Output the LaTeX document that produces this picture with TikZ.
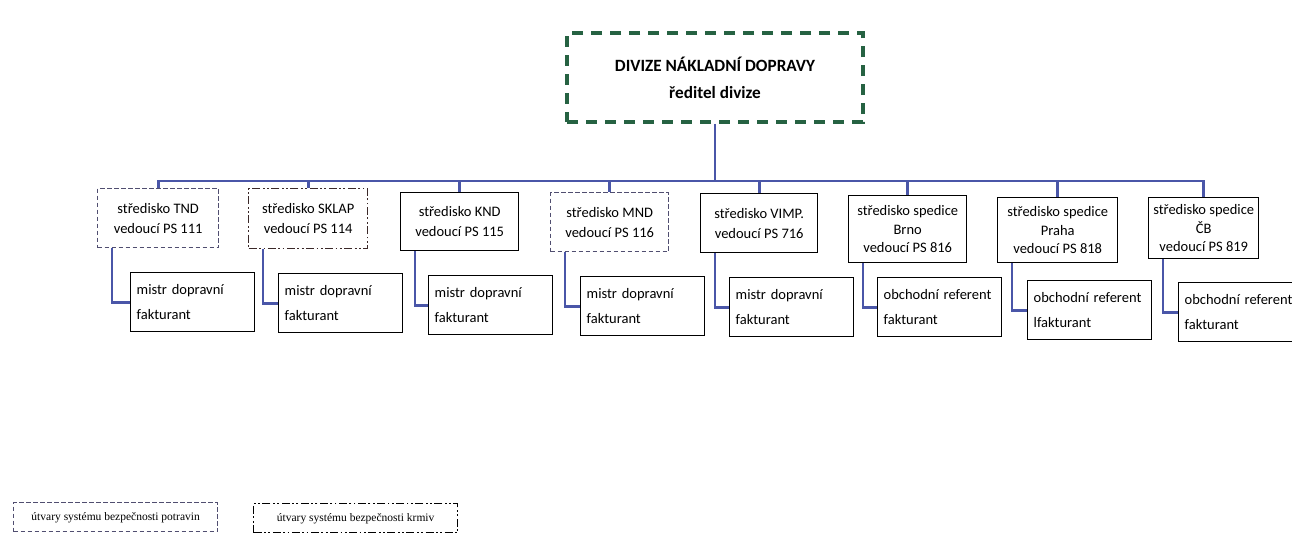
\documentclass[tikz,border=0pt]{standalone}
\usepackage{fontspec}
\setmainfont{Carlito}
\newfontfamily\legfont{Liberation Serif}
\definecolor{topgreen}{RGB}{38,98,66}
\definecolor{linkblue}{RGB}{74,86,168}
\definecolor{dashpurple}{RGB}{80,78,112}
\definecolor{dashbrown}{RGB}{58,40,40}
\tikzset{
  lvlbox/.style={draw=black, line width=1.4pt, anchor=north west, align=center, inner sep=0pt,
     font=\fontsize{14.5}{20}\selectfont},
  tallbox/.style={lvlbox, font=\fontsize{14.5}{18.5}\selectfont},
  foodbox/.style={draw=dashpurple, dash pattern=on 4.5pt off 2.5pt},
  feedbox/.style={draw=dashbrown, dash pattern=on 8pt off 2.5pt on 1.8pt off 2.5pt on 1.8pt off 2.5pt},
  childbox/.style={draw=black, line width=1.4pt, anchor=north west, minimum width=124pt,
     minimum height=59pt, text width=112pt, inner xsep=6pt, align=left,
     font=\fontsize{14.5}{25}\selectfont},
  link/.style={draw=linkblue, line width=2.8pt},
  legbox/.style={line width=1.3pt, anchor=north west, minimum width=204pt, minimum height=29pt,
     inner sep=0pt, font=\legfont\fontsize{11.5}{14}\selectfont},
}
\begin{document}
\begin{tikzpicture}[x=1pt,y=-1pt]
\useasboundingbox[fill=white] (0,0) rectangle (1292,533);
% top
\node[draw=topgreen, line width=3.5pt, dash pattern=on 11pt off 8pt, minimum width=296pt,
  minimum height=89pt, align=center, font=\bfseries\fontsize{17.2}{27}\selectfont]
  (top) at (715,77.5) {DIVIZE NÁKLADNÍ DOPRAVY\\ředitel divize};
% level 1
\node[lvlbox, foodbox, minimum width=121pt, minimum height=59pt] (n1) at (97,188) {středisko TND\\vedoucí PS 111};
\node[lvlbox, feedbox, minimum width=119pt, minimum height=60pt] (n2) at (248,188) {středisko SKLAP\\vedoucí PS 114};
\node[lvlbox, minimum width=118pt, minimum height=58pt] (n3) at (400,192) {středisko KND\\vedoucí PS 115};
\node[lvlbox, foodbox, minimum width=118pt, minimum height=59pt] (n4) at (550,192) {středisko MND\\vedoucí PS 116};
\node[lvlbox, minimum width=117pt, minimum height=59pt] (n5) at (700,193) {středisko VIMP.\\vedoucí PS 716};
\node[tallbox, minimum width=118pt, minimum height=67pt] (n6) at (848,195) {středisko spedice\\Brno\\vedoucí PS 816};
\node[tallbox, minimum width=120pt, minimum height=65pt] (n7) at (997,197) {středisko spedice\\Praha\\vedoucí PS 818};
\node[tallbox, minimum width=110pt, minimum height=61pt] (n8) at (1148,197) {středisko spedice\\ČB\\vedoucí PS 819};
% level 2
\node[childbox] (c1) at (130,272) {mistr dopravní\\fakturant};
\node[childbox] (c2) at (278,273) {mistr dopravní\\fakturant};
\node[childbox] (c3) at (428,275) {mistr dopravní\\fakturant};
\node[childbox] (c4) at (580,276) {mistr dopravní\\fakturant};
\node[childbox] (c5) at (729,277) {mistr dopravní\\fakturant};
\node[childbox] (c6) at (877,277) {obchodní referent\\fakturant};
\node[childbox] (c7) at (1027,280) {obchodní referent\\lfakturant};
\node[childbox] (c8) at (1178,282) {obchodní referent\\fakturant};
% connectors
\coordinate (bar) at (715,181);
\draw[link] (top.south) -- (bar);
\foreach \i in {1,...,8} {
  \draw[link] (bar) -| (n\i.north);
  \draw[link] ([xshift=15pt]n\i.south west) |- (c\i.west);
}
% legend
\node[legbox, foodbox, text depth=2pt] (leg1) at (13,502) {útvary systému bezpečnosti potravin};
\node[legbox, feedbox, draw=black, text depth=2pt] (leg2) at (253,503) {útvary systému bezpečnosti krmiv};
\end{tikzpicture}
\end{document}
